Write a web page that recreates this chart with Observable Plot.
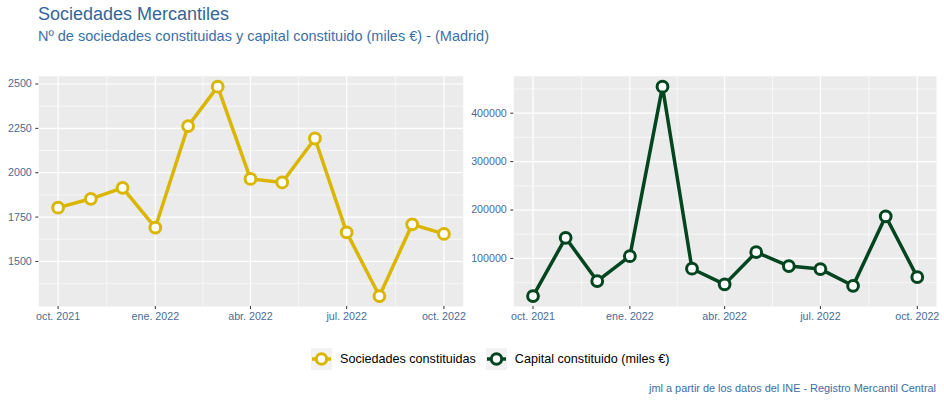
<!DOCTYPE html>
<html>
<head>
<meta charset="utf-8">
<script src="https://cdn.jsdelivr.net/npm/d3@7"></script>
<script src="https://cdn.jsdelivr.net/npm/@observablehq/plot@0.6"></script>
<style>
  body { margin: 0; background: white; font-family: "Liberation Sans", Arial, sans-serif; }
  #wrap { position: relative; width: 944px; height: 404px; overflow: hidden; }
  .abs { position: absolute; white-space: nowrap; }
  #title { left: 38px; top: 4px; font-size: 18px; color: #36659a; }
  #subtitle { left: 38px; top: 28px; font-size: 14.5px; color: #3b70a8; }
  #left { left: 0; top: 62px; }
  #right { left: 470px; top: 62px; }
  #legend { left: 311px; top: 348px; display: flex; align-items: center; font-size: 12.6px; color: #000; }
  #legend .item { display: flex; align-items: center; margin-right: 10px; }
  #legend svg { margin-right: 8px; }
  #caption { right: 8px; top: 382px; font-size: 10.9px; color: #3b6ea5; }
</style>
</head>
<body>
<div id="wrap">
  <div id="title" class="abs">Sociedades Mercantiles</div>
  <div id="subtitle" class="abs">Nº de sociedades constituidas y capital constituido (miles €) - (Madrid)</div>
  <div id="left" class="abs"></div>
  <div id="right" class="abs"></div>
  <div id="legend" class="abs"></div>
  <div id="caption" class="abs">jml a partir de los datos del INE - Registro Mercantil Central</div>
</div>
<script>
// ---- data ----
const months = ["2021-10-01","2021-11-01","2021-12-01","2022-01-01","2022-02-01","2022-03-01","2022-04-01","2022-05-01","2022-06-01","2022-07-01","2022-08-01","2022-09-01","2022-10-01"];
const sociedades = [1803, 1853, 1915, 1691, 2263, 2485, 1965, 1945, 2193, 1664, 1305, 1709, 1655];
const capital = [22400, 142600, 53300, 104700, 454800, 78800, 46500, 113000, 84200, 78000, 43500, 187100, 61500];
const seriesNames = ["Sociedades constituidas", "Capital constituido (miles €)"];
const seriesColors = ["#dab600", "#02451f"];
const xTickDates = ["2021-10-01","2022-01-01","2022-04-01","2022-07-01","2022-10-01"];
const xTickLabels = ["oct. 2021","ene. 2022","abr. 2022","jul. 2022","oct. 2022"];
const leftYTicks = [1500, 1750, 2000, 2250, 2500];
const leftYMinor = [1375, 1625, 1875, 2125, 2375];
const rightYTicks = [100000, 200000, 300000, 400000];
const rightYMinor = [50000, 150000, 250000, 350000, 450000];

// ---- helpers ----
const parse = d3.utcParse("%Y-%m-%d");
const dates = months.map(parse);
const tickDates = xTickDates.map(parse);
const minorX = d3.pairs(tickDates).map(([a, b]) => new Date((+a + +b) / 2));
const labelOf = new Map(tickDates.map((d, i) => [+d, xTickLabels[i]]));
const span = dates[dates.length - 1] - dates[0];
const xDomain = [new Date(+dates[0] - span * 0.05), new Date(+dates[dates.length - 1] + span * 0.05)];
function expand(vals) {
  const [a, b] = d3.extent(vals);
  const p = (b - a) * 0.05;
  return [a - p, b + p];
}

const tickTextColor = "#4a6b96";

function panel(values, color, yTicks, yMinor, opts) {
  const data = dates.map((d, i) => ({date: d, value: values[i]}));
  return Plot.plot({
    width: opts.width,
    height: 264,
    marginLeft: opts.marginLeft,
    marginRight: opts.marginRight,
    marginTop: 13.7,
    marginBottom: 20,
    style: {fontFamily: "'Liberation Sans', Arial, sans-serif", fontSize: "10.7px", background: "white", overflow: "visible"},
    x: {type: "utc", domain: xDomain},
    y: {domain: expand(values)},
    marks: [
      Plot.frame({fill: "#ebebeb", stroke: null}),
      Plot.ruleY(yMinor, {stroke: "white", strokeWidth: 0.6}),
      Plot.ruleX(minorX, {stroke: "white", strokeWidth: 0.6}),
      Plot.ruleY(yTicks, {stroke: "white", strokeWidth: 1.2}),
      Plot.ruleX(tickDates, {stroke: "white", strokeWidth: 1.2}),
      Plot.axisY({ticks: yTicks, tickSize: 3, tickPadding: 4, label: null, tickFormat: d => String(d), stroke: "#333", fill: tickTextColor}),
      Plot.axisX({ticks: tickDates, tickSize: 3, tickPadding: 3, label: null, tickFormat: d => labelOf.get(+d), stroke: "#333", fill: tickTextColor}),
      Plot.line(data, {x: "date", y: "value", stroke: color, strokeWidth: 3.5}),
      Plot.dot(data, {x: "date", y: "value", r: 5.4, fill: "white", stroke: color, strokeWidth: 3})
    ]
  });
}

document.getElementById("left").append(panel(sociedades, seriesColors[0], leftYTicks, leftYMinor, {width: 470, marginLeft: 38.3, marginRight: 7.3}));
document.getElementById("right").append(panel(capital, seriesColors[1], rightYTicks, rightYMinor, {width: 474, marginLeft: 43.3, marginRight: 8}));

// legend
const legend = document.getElementById("legend");
seriesNames.forEach((name, i) => {
  const item = document.createElement("div");
  item.className = "item";
  item.innerHTML = `<svg width="21" height="22"><rect width="21" height="22" fill="#f2f2f2"/>` +
    `<line x1="1" x2="20" y1="11" y2="11" stroke="${seriesColors[i]}" stroke-width="3.5"/>` +
    `<circle cx="10.5" cy="11" r="5.2" fill="white" stroke="${seriesColors[i]}" stroke-width="3"/></svg>` +
    `<span>${name}</span>`;
  legend.append(item);
});
</script>
</body>
</html>
